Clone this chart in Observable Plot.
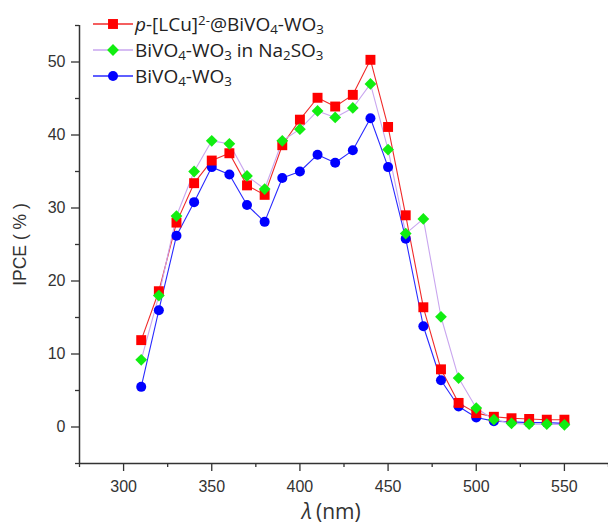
<!DOCTYPE html>
<html><head><meta charset="utf-8">
<script src="https://cdn.jsdelivr.net/npm/d3@7"></script>
<script src="https://cdn.jsdelivr.net/npm/@observablehq/plot@0.6"></script>
<style>
body{margin:0;background:#fff;}
#wrap{position:relative;width:608px;height:529px;}
#legend{position:absolute;left:93px;top:11px;font-family:"Open Sans",sans-serif;font-size:19px;color:#222;}
.row{display:flex;align-items:center;height:26px;white-space:nowrap;line-height:22px;}
.row svg{margin-right:2px;flex:none}
sub,sup{font-size:70%;line-height:0}
sub{vertical-align:-0.2em}
sup{vertical-align:0.45em}
</style>
</head><body><div id="wrap"><div id="legend"></div></div>
<script>
// ---- data ----
const wavelength = [310,320,330,340,350,360,370,380,390,400,410,420,430,440,450,460,470,480,490,500,510,520,530,540,550];
const ipceLCu   = [11.9,18.6,28.0,33.4,36.5,37.5,33.1,31.8,38.6,42.1,45.1,43.9,45.5,50.3,41.1,29.0,16.4,7.9,3.3,1.9,1.4,1.2,1.1,1.0,1.0];
const ipceNa2SO3 = [9.2,18.0,28.9,35.0,39.2,38.8,34.4,32.6,39.2,40.8,43.3,42.4,43.7,47.0,38.0,26.5,28.5,15.1,6.7,2.6,1.0,0.5,0.4,0.4,0.3];
const ipceBare  = [5.5,16.0,26.2,30.8,35.6,34.6,30.4,28.1,34.1,35.0,37.3,36.2,37.9,42.3,35.6,25.8,13.8,6.4,2.8,1.3,0.8,0.7,0.6,0.6,0.5];
const xDomain = [275, 575];
const yDomain = [-5, 55];
const xMajor = [300,350,400,450,500,550];
const xMinor = [275,325,375,425,475,525,575];
const yMajor = [0,10,20,30,40,50];
const yMinor = [-5,5,15,25,35,45,55];
const labelLCu = '<i>p</i>-[LCu]<sup>2-</sup>@BiVO<sub>4</sub>-WO<sub>3</sub>';
const labelNa2SO3 = 'BiVO<sub>4</sub>-WO<sub>3</sub> in Na<sub>2</sub>SO<sub>3</sub>';
const labelBare = 'BiVO<sub>4</sub>-WO<sub>3</sub>';

// drawing order: blue, red, green (green on top)
const series = [
  {values: ipceBare, label: labelBare, line: "#2a2aff", fill: "#0000ff", symbol: "circle", r: 5},
  {values: ipceLCu, label: labelLCu, line: "#f02a2a", fill: "#ff0000", symbol: "square", r: 5.6},
  {values: ipceNa2SO3, label: labelNa2SO3, line: "#c9a6ef", fill: "#11ee11", symbol: "diamond2", r: 5.3}
];
const legendOrder = [1, 2, 0];

const marks = [];
for (const s of series) {
  const rows = wavelength.map((w, i) => ({w, v: s.values[i]}));
  marks.push(Plot.line(rows, {x: "w", y: "v", stroke: s.line, strokeWidth: 1.1}));
}
for (const s of series) {
  const rows = wavelength.map((w, i) => ({w, v: s.values[i]}));
  marks.push(Plot.dot(rows, {x: "w", y: "v", fill: s.fill, stroke: "none", symbol: s.symbol, r: s.r}));
}

const plot = Plot.plot({
  width: 608, height: 529,
  marginLeft: 79, marginRight: 0, marginTop: 25, marginBottom: 66,
  style: {fontFamily: "'Liberation Sans', Arial, sans-serif", fontSize: "16px", color: "#333", background: "#fff"},
  x: {domain: xDomain},
  y: {domain: yDomain},
  marks: [
    ...marks,
    Plot.ruleX([xDomain[0]], {stroke: "#333", strokeWidth: 1.5}),
    Plot.ruleY([yDomain[0]], {stroke: "#333", strokeWidth: 1.5}),
    Plot.axisX({ticks: xMajor, tickSize: 8, tickPadding: 9, label: null, stroke: "#333", strokeWidth: 1.3, fontSize: 16}),
    Plot.axisX({ticks: xMinor, tickSize: 4, text: null, label: null, stroke: "#333", strokeWidth: 1.3}),
    Plot.axisY({ticks: yMajor, tickSize: 8, tickPadding: 6, label: null, stroke: "#333", strokeWidth: 1.3, fontSize: 16}),
    Plot.axisY({ticks: yMinor, tickSize: 4, text: null, label: null, stroke: "#333", strokeWidth: 1.3}),
    Plot.axisY({ticks: [], label: "IPCE ( % )", labelAnchor: "center", labelArrow: "none", labelOffset: 66, fontSize: 17.5}),
    Plot.text(["λ"], {frameAnchor: "bottom", dx: -32, dy: 55, textAnchor: "end", fontSize: 21, fontStyle: "italic", fontFamily: "'Open Sans', sans-serif", fill: "#333"}),
    Plot.text(["(nm)"], {frameAnchor: "bottom", dx: -28, dy: 55, textAnchor: "start", fontSize: 21, fontFamily: "'Open Sans', sans-serif", fill: "#333"})
  ]
});
const wrap = document.getElementById("wrap");
wrap.insertBefore(plot, wrap.firstChild);

// legend
const legend = d3.select("#legend");
for (const k of legendOrder) {
  const s = series[k];
  const row = legend.append("div").attr("class", "row");
  const svg = row.append("svg").attr("width", 40).attr("height", 20);
  svg.append("line").attr("x1", 0).attr("x2", 40).attr("y1", 10).attr("y2", 10).attr("stroke", s.line).attr("stroke-width", 1.3);
  const sym = {circle: d3.symbolCircle, square: d3.symbolSquare, diamond2: d3.symbolDiamond2}[s.symbol];
  svg.append("path").attr("transform", "translate(20,10)")
    .attr("d", d3.symbol(sym, Math.PI * s.r * s.r)()).attr("fill", s.fill);
  row.append("span").html(s.label);
}
</script>
</body></html>
